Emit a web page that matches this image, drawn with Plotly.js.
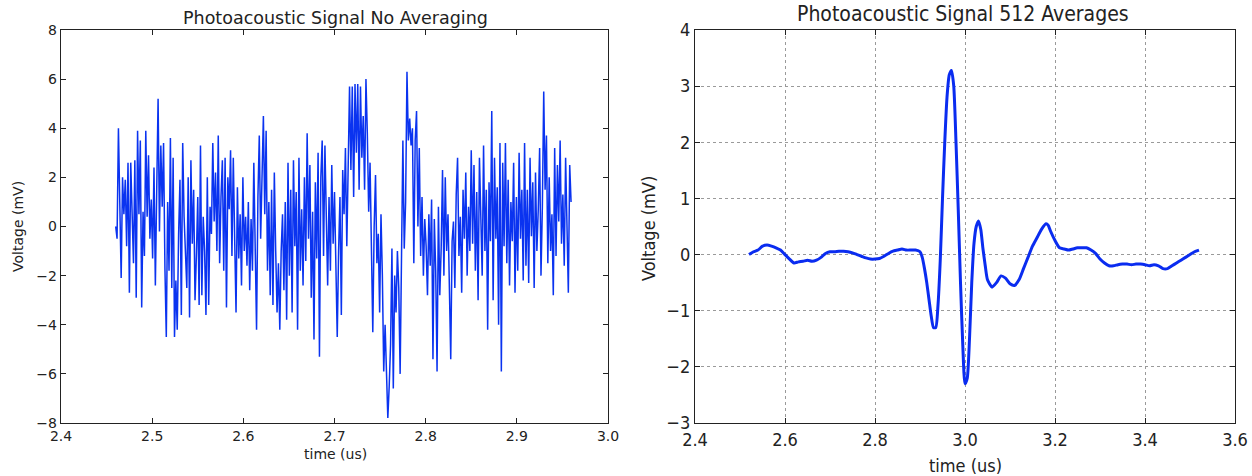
<!DOCTYPE html>
<html>
<head>
<meta charset="utf-8">
<script src="https://cdn.plot.ly/plotly-3.0.1.min.js"></script>
<style>html,body{margin:0;padding:0;background:#fff}#chart{width:1252px;height:476px}</style>
</head>
<body>
<div id="chart"></div>
<script>
// ---- Left panel: raw signal (no averaging) ----
const rawStart = 2.46;
const rawStep = 0.0015;
const rawVoltage = [
  0, -0.5, 4.0, 1.5, -2.1, 2.0, 0.5, 1.9, -0.8, 2.6, -2.7, 2.6, 0.2, -1.5, 2.7, -2.9, 3.9, 0.5, 3.5, -3.3,
  0.6, -1.2, 3.9, 0.4, 2.9, -0.5, 1.1, -1.3, 2.4, -2.4, 1.5, 5.2, -0.2, 3.3, 0.8, 3.4, -1.7, -4.5, 1.0, -1.8,
  3.6, -2.5, 2.8, -4.5, -2.2, -4.2, -0.3, 1.9, -3.6, 3.4, 0.4, -0.8, -2.5, 2.0, -3.7, 2.7, -0.7, 1.5, -3.0, -1.2,
  1.2, -3.2, 3.3, -2.8, 0.4, -1.0, -3.6, 2.0, -3.2, 0.8, -0.3, 3.4, 0.2, 2.2, -1.0, 3.7, -1.5, 1.2, 2.7, -1.8,
  2.8, -3.3, 2.0, 0.7, 3.1, -1.2, 2.8, -0.5, -3.5, 1.6, -1.3, 0.5, -2.4, 2.0, -1.0, 0.4, -1.6, 1.0, -2.6, 0.3,
  -1.8, 2.6, -0.8, -4.2, 1.2, 3.7, -0.5, 2.9, 4.5, 0.5, 3.9, -1.8, 1.0, -2.8, 1.5, -3.2, 2.2, -1.0, -3.5, -1.5,
  -4.2, -1.0, 0.5, -2.6, 1.0, -3.8, 2.6, -2.0, 1.5, -3.5, 2.7, -0.8, 1.4, -4.2, 2.8, -1.8, 0.7, -2.4, 2.0, -1.4,
  3.8, -0.5, 2.5, -2.9, 0.6, -4.6, 1.8, -1.3, 3.0, -5.3, 2.0, 3.5, -1.2, 3.3, 0.5, -2.4, 1.2, -1.8, 2.5, -0.7,
  1.4, -2.0, -4.5, -1.0, 1.2, -3.6, 2.3, 0.5, 3.2, -0.8, 1.8, 5.7, 2.3, 5.7, 1.2, 5.8, 3.0, 5.8, 1.5, 5.7,
  2.8, 4.5, 1.5, 6.0, 3.8, 0.6, 2.6, -0.8, -4.3, 0.0, 2.1, -1.5, -0.3, -3.5, 0.5, -2.0, -5.9, -4.0, -6.2, -7.8,
  -6.5, -4.8, -0.9, -6.6, -2.0, -3.5, -1.0, -2.5, -6.0, 0.5, 3.5, -0.9, 1.0, 6.3, 3.5, 4.4, 3.3, 4.0, -1.5, 3.5,
  4.7, 0.0, 3.2, -1.2, 1.2, -2.0, 0.3, -0.8, -2.8, 0.5, -1.6, 1.1, -5.4, 0.3, -1.8, -5.9, 0.8, -2.8, -0.9, 2.3,
  -2.0, 2.0, -1.0, 0.5, -3.0, -5.4, -0.6, 0.2, -2.5, 1.3, 2.8, -1.2, 0.4, -2.7, 1.5, -0.5, 2.2, -2.0, 0.8, -1.0,
  3.1, -0.7, 2.5, -1.8, 1.4, -3.0, 2.8, 0.2, -2.0, 3.3, -1.0, 1.5, -4.2, 1.8, -0.6, 4.7, -3.0, 2.8, -0.5, 1.6,
  -4.0, 3.4, -5.9, 2.6, -0.8, 3.4, -1.5, 1.9, -2.4, 1.0, -0.6, 2.6, -2.7, 1.2, -1.8, 3.0, -0.5, 1.5, -2.2, 3.4,
  -1.6, 1.5, -2.3, 2.8, -0.4, 1.8, -2.5, 2.2, -1.0, 0.7, 3.2, -2.0, 0.8, 5.5, 1.5, 3.7, -1.5, 2.0, -1.0, 0.5,
  -2.8, 3.2, -1.2, 2.5, 0.2, 3.5, -0.7, 1.3, -1.6, 2.8, 0.2, -2.7, 2.5, 1.0
];
const rawTime = rawVoltage.map((_, i) => rawStart + i * rawStep);

// ---- Right panel: 512 averages ----
const avgTime = [
  2.52, 2.53, 2.54, 2.55, 2.56, 2.57, 2.58, 2.59, 2.60, 2.61, 2.62, 2.63, 2.64, 2.65, 2.66, 2.67, 2.68, 2.69,
  2.70, 2.71, 2.72, 2.73, 2.74, 2.75, 2.76, 2.77, 2.78, 2.79, 2.80, 2.81, 2.82, 2.83, 2.84, 2.85, 2.86, 2.87,
  2.88, 2.89, 2.90, 2.905, 2.91, 2.915, 2.92, 2.925, 2.93, 2.935, 2.94, 2.945, 2.95, 2.955, 2.96, 2.965, 2.97,
  2.975, 2.98, 2.985, 2.99, 2.995, 3.00, 3.005, 3.01, 3.015, 3.02, 3.025, 3.03, 3.035, 3.04, 3.045, 3.05, 3.06,
  3.07, 3.08, 3.09, 3.10, 3.11, 3.12, 3.13, 3.14, 3.15, 3.16, 3.17, 3.18, 3.185, 3.19, 3.20, 3.21, 3.22, 3.23,
  3.24, 3.25, 3.26, 3.27, 3.28, 3.29, 3.30, 3.31, 3.32, 3.33, 3.34, 3.35, 3.36, 3.37, 3.38, 3.39, 3.40, 3.41,
  3.42, 3.43, 3.44, 3.45, 3.46, 3.47, 3.48, 3.49, 3.50, 3.51, 3.52
];
const avgVoltage = [
  0.0, 0.05, 0.08, 0.15, 0.17, 0.15, 0.12, 0.08, 0.0, -0.08, -0.15, -0.13, -0.12, -0.1, -0.12, -0.1, -0.05, 0.02,
  0.05, 0.05, 0.06, 0.06, 0.05, 0.03, 0.0, -0.03, -0.06, -0.08, -0.08, -0.07, -0.03, 0.02, 0.06, 0.08, 0.1, 0.08,
  0.08, 0.08, 0.05, -0.05, -0.25, -0.5, -0.8, -1.1, -1.3, -1.3, -0.9, -0.1, 1.0, 2.0, 2.8, 3.2, 3.28,
  3.0, 2.0, 0.8, -0.5, -1.6, -2.3, -2.2, -1.5, -0.5, 0.2, 0.5, 0.6, 0.45, 0.1, -0.2, -0.45, -0.58,
  -0.5, -0.38, -0.42, -0.52, -0.55, -0.45, -0.25, -0.05, 0.15, 0.3, 0.45, 0.55, 0.52, 0.42, 0.25, 0.12, 0.1, 0.08,
  0.1, 0.12, 0.12, 0.12, 0.08, 0.02, -0.08, -0.15, -0.2, -0.2, -0.18, -0.17, -0.17, -0.18, -0.17, -0.17, -0.18, -0.2,
  -0.18, -0.2, -0.25, -0.25, -0.2, -0.15, -0.1, -0.05, 0.0, 0.05, 0.08
];

const leftXTicks = [2.4, 2.5, 2.6, 2.7, 2.8, 2.9, 3.0];
const leftYTicks = [-8, -6, -4, -2, 0, 2, 4, 6, 8];
const rightXTicks = [2.4, 2.6, 2.8, 3.0, 3.2, 3.4, 3.6];
const rightYTicks = [-3, -2, -1, 0, 1, 2, 3, 4];

const W = 1252, H = 476;
const px = v => v / W;
const py = v => 1 - v / H;

const txt = '#222';
const leftFont = {family: 'DejaVu Sans', size: 14, color: txt};
const rightFont = {family: 'DejaVu Sans Condensed, DejaVu Sans', size: 18, color: txt};

const traces = [
  {x: rawTime, y: rawVoltage, type: 'scatter', mode: 'lines', xaxis: 'x', yaxis: 'y',
   line: {color: '#0a33f0', width: 1.5}, hoverinfo: 'skip'},
  {x: avgTime, y: avgVoltage, type: 'scatter', mode: 'lines', xaxis: 'x2', yaxis: 'y2',
   line: {color: '#0a2cf0', width: 3, shape: 'spline', smoothing: 0.6}, hoverinfo: 'skip'}
];

const axBase = {showline: true, linecolor: '#222', linewidth: 1.2, mirror: 'ticks', ticks: 'inside',
  ticklen: 5, tickcolor: '#222', zeroline: false, fixedrange: true};

const layout = {
  width: W, height: H, margin: {l: 0, r: 0, t: 0, b: 0},
  paper_bgcolor: '#fff', plot_bgcolor: '#fff', showlegend: false,
  xaxis: Object.assign({}, axBase, {domain: [px(61), px(608)], range: [2.4, 3.0], tickvals: leftXTicks,
    tickformat: '.1f', showgrid: false, tickfont: leftFont, anchor: 'y'}),
  yaxis: Object.assign({}, axBase, {domain: [py(423), py(30)], range: [-8, 8], tickvals: leftYTicks,
    showgrid: false, tickfont: leftFont, anchor: 'x'}),
  xaxis2: Object.assign({}, axBase, {domain: [px(695), px(1235)], range: [2.4, 3.6], tickvals: rightXTicks,
    tickformat: '.1f', showgrid: true, gridcolor: '#9a9a9a', griddash: 'dot', gridwidth: 1,
    tickfont: rightFont, anchor: 'y2'}),
  yaxis2: Object.assign({}, axBase, {domain: [py(423), py(30)], range: [-3, 4], tickvals: rightYTicks,
    showgrid: true, gridcolor: '#9a9a9a', griddash: 'dot', gridwidth: 1,
    tickfont: rightFont, anchor: 'x2'}),
  annotations: [
    {text: 'Photoacoustic Signal No Averaging', xref: 'paper', yref: 'paper', x: px(335), y: py(18),
     xanchor: 'center', yanchor: 'middle', showarrow: false, font: {family: 'DejaVu Sans', size: 17.5, color: txt}},
    {text: 'Photoacoustic Signal 512 Averages', xref: 'paper', yref: 'paper', x: px(963), y: py(14),
     xanchor: 'center', yanchor: 'middle', showarrow: false, font: {family: 'DejaVu Sans Condensed, DejaVu Sans', size: 21, color: txt}},
    {text: 'time (us)', xref: 'paper', yref: 'paper', x: px(335), y: py(454),
     xanchor: 'center', yanchor: 'middle', showarrow: false, font: leftFont},
    {text: 'time (us)', xref: 'paper', yref: 'paper', x: px(965), y: py(465),
     xanchor: 'center', yanchor: 'middle', showarrow: false, font: rightFont},
    {text: 'Voltage (mV)', xref: 'paper', yref: 'paper', x: px(18), y: py(227), textangle: -90,
     xanchor: 'center', yanchor: 'middle', showarrow: false, font: leftFont},
    {text: 'Voltage (mV)', xref: 'paper', yref: 'paper', x: px(648), y: py(228), textangle: -90,
     xanchor: 'center', yanchor: 'middle', showarrow: false, font: rightFont}
  ]
};

Plotly.newPlot('chart', traces, layout, {staticPlot: true, displayModeBar: false});
</script>
</body>
</html>
